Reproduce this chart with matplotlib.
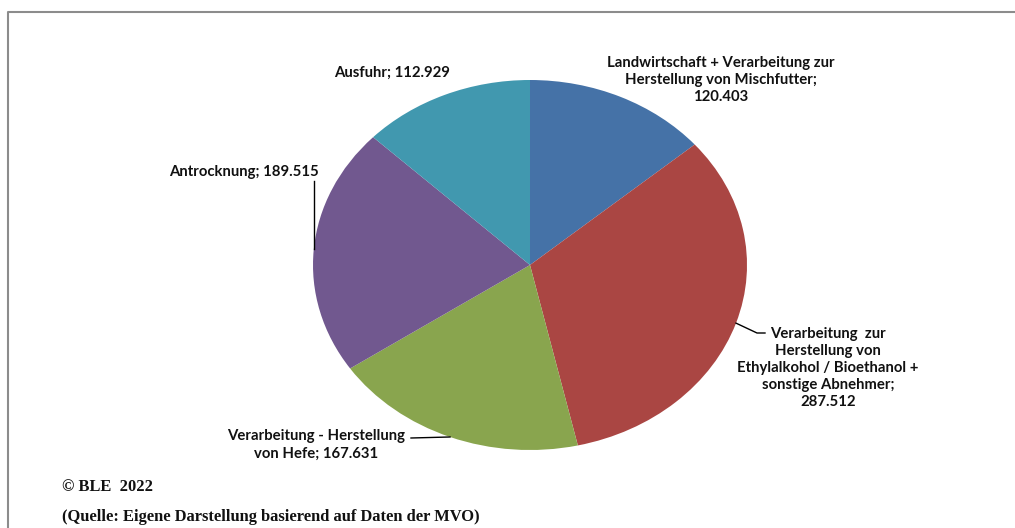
import matplotlib
matplotlib.use("Agg")
import matplotlib.pyplot as plt
import numpy as np
from matplotlib.lines import Line2D

labels = ["Landwirtschaft + Verarbeitung zur\nHerstellung von Mischfutter;\n120.403",
          "Verarbeitung  zur\nHerstellung von\nEthylalkohol / Bioethanol +\nsonstige Abnehmer;\n287.512",
          "Verarbeitung - Herstellung\nvon Hefe; 167.631",
          "Antrocknung; 189.515",
          "Ausfuhr; 112.929"]
values = [120.403, 287.512, 167.631, 189.515, 112.929]
colors = ["#4572A7", "#AA4643", "#89A54E", "#71588F", "#4198AF"]

W, H = 1015, 528
fig = plt.figure(figsize=(W/100, H/100), dpi=100)
fig.patch.set_facecolor("white")

cx, cy, rx, ry = 530, 265, 217, 185
ax = fig.add_axes([(cx-rx)/W, (H-cy-ry)/H, 2*rx/W, 2*ry/H])
wedges, _ = ax.pie(values, colors=colors, startangle=90, counterclock=False,
                   radius=1.0, wedgeprops=dict(linewidth=0))
ax.set_aspect("auto")
ax.set_xlim(-1, 1)
ax.set_ylim(-1, 1)
ax.axis("off")

font = dict(family=["Lato", "DejaVu Sans"], fontweight="bold", fontsize=10.7,
            color="#111111", linespacing=1.28)

def px(x, y):
    return x / W, 1 - y / H

# label positions (pixels) and alignments
pos = [(721, 80, "center"), (828, 368, "center"), (316, 445, "center"),
       (244, 172, "center"), (392, 73, "center")]
for lab, (x, y, ha) in zip(labels, pos):
    fig.text(*px(x, y), lab, ha=ha, va="center", **font)

def edge(w):
    a = np.deg2rad((w.theta1 + w.theta2) / 2)
    return np.cos(a), np.sin(a)

def to_data(x, y):
    return (x - cx) / rx, (cy - y) / ry

# leader lines
ex, ey = edge(wedges[1])
p1 = to_data(757, 333); p2 = to_data(765, 333)
ax.plot([ex, p1[0], p2[0]], [ey, p1[1], p2[1]], color="black", lw=1, clip_on=False)
ex, ey = edge(wedges[2])
p1 = to_data(411, 438)
ax.plot([ex, p1[0]], [ey, p1[1]], color="black", lw=1, clip_on=False)
ex, ey = edge(wedges[3])
p1 = to_data(315, 181)
ax.plot([ex, ex], [ey, p1[1]], color="black", lw=1, clip_on=False)

serif = dict(family=["Liberation Serif", "DejaVu Serif"], fontweight="bold",
             fontsize=11.9, color="#111111")
fig.text(*px(62, 487), "© BLE  2022", ha="left", va="center", **serif)
fig.text(*px(62, 517), "(Quelle: Eigene Darstellung basierend auf Daten der MVO)",
         ha="left", va="center", **serif)

# frame
fig.add_artist(Line2D([8/W, 8/W, 1.0], [0, 1-12/H, 1-12/H], transform=fig.transFigure,
                      color="#8c8c8c", lw=1.5))

fig.savefig("out.png", dpi=100, facecolor="white")
